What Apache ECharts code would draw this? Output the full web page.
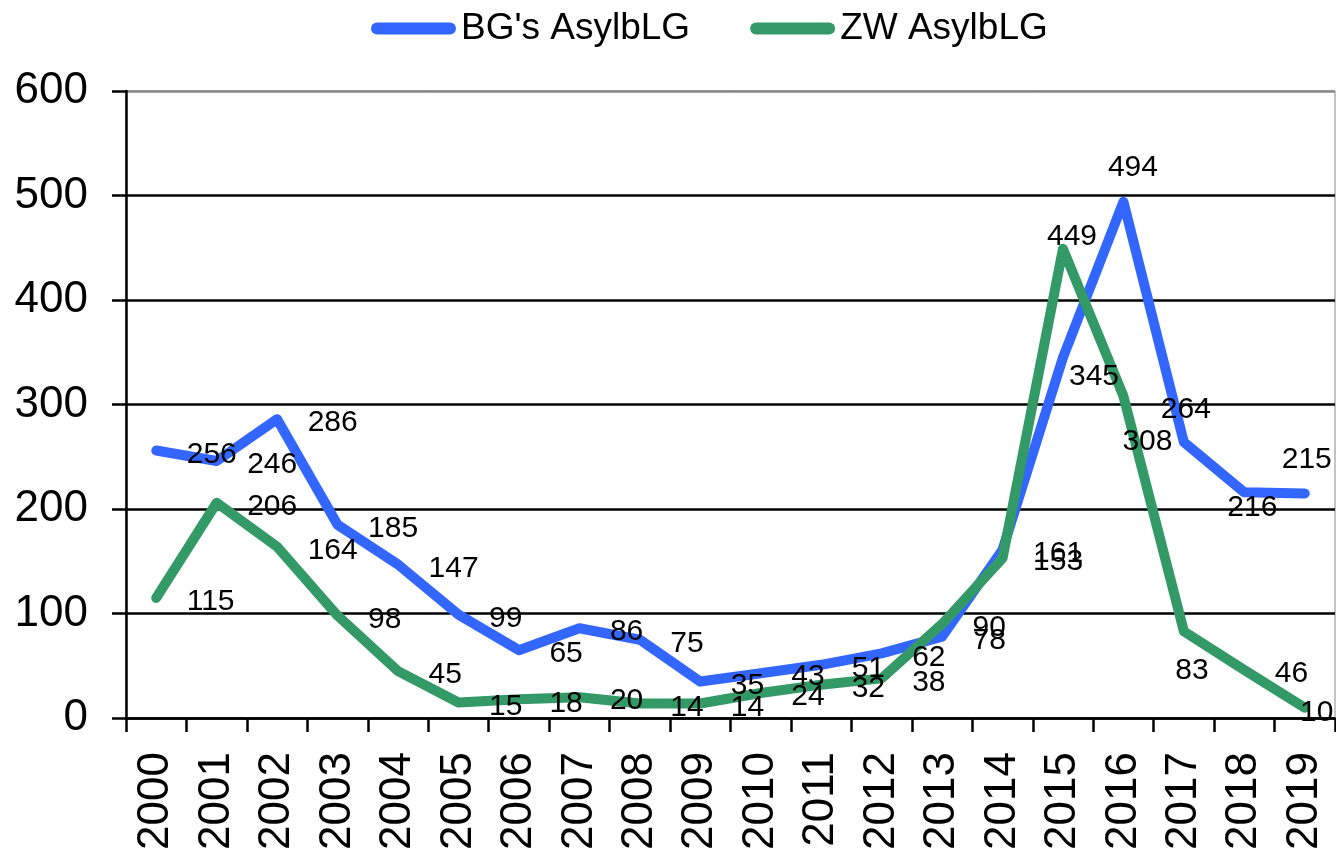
<!DOCTYPE html>
<html>
<head>
<meta charset="utf-8">
<script src="https://cdn.jsdelivr.net/npm/echarts@6/dist/echarts.min.js"></script>
<style>
html,body{margin:0;padding:0;background:#fff;}
#chart{width:1336px;height:853px;}
</style>
</head>
<body>
<div id="chart"></div>
<script>
// ---- data ----
const years = ['2000','2001','2002','2003','2004','2005','2006','2007','2008','2009',
               '2010','2011','2012','2013','2014','2015','2016','2017','2018','2019'];
const bgValues = [256,246,286,185,147,99,65,86,75,35,43,51,62,78,161,345,494,264,216,215];
const zwValues = [115,206,164,98,45,15,18,20,14,14,24,32,38,90,153,449,308,83,46,10];
const seriesNames = ["BG's AsylbLG", 'ZW AsylbLG'];

// ---- style (label nudges, relative to point) ----
const FONT = "'Liberation Sans', Arial, sans-serif";
const bgNudge = {15:[31,19],16:[9.5,-34],17:[2,-32],18:[8,15.5],19:[2,-34]};
const zwNudge = {15:[9,-12],16:[24,46],17:[8,39],19:[12,5]};

function buildData(values, nudge) {
  return values.map((v, i) => {
    if (nudge[i]) {
      return { value: v, label: { position: 'inside', offset: nudge[i] } };
    }
    return v;
  });
}

const labelBase = {
  show: true,
  position: 'right',
  distance: 30,
  offset: [0, 4],
  color: '#000',
  fontSize: 30,
  fontFamily: FONT
};

function makeSeries(name, values, nudge, color) {
  return {
    name: name,
    type: 'line',
    data: buildData(values, nudge),
    symbol: 'circle',
    symbolSize: 1,
    showSymbol: true,
    itemStyle: { color: color, borderWidth: 0 },
    lineStyle: { color: color, width: 10, cap: 'round', join: 'round' },
    label: labelBase,
    emphasis: { disabled: true }
  };
}

const pill = 'path://M6,0H79A6,6 0 0 1 79,12H6A6,6 0 0 1 6,0Z';

const option = {
  animation: false,
  backgroundColor: '#fff',
  legend: {
    left: 366,
    top: 5,
    icon: pill,
    itemWidth: 85,
    itemHeight: 12,
    itemGap: 60,
    itemStyle: { borderWidth: 0 },
    textStyle: { fontSize: 37, color: '#000', fontFamily: FONT },
    data: seriesNames
  },
  grid: {
    left: 126, right: 1, top: 91, bottom: 134,
    show: true, borderColor: '#888', borderWidth: 1
  },
  xAxis: {
    type: 'category',
    data: years,
    boundaryGap: true,
    axisLine: { show: true, lineStyle: { color: '#000', width: 2.5 } },
    axisTick: { show: true, length: 14, lineStyle: { color: '#000', width: 2.5 } },
    axisLabel: { rotate: 90, margin: 34, fontSize: 44, color: '#000', fontFamily: FONT, interval: 0 },
    splitLine: { show: false }
  },
  yAxis: {
    type: 'value',
    min: 0, max: 600, interval: 100,
    axisLine: { show: true, lineStyle: { color: '#000', width: 2.5 } },
    axisTick: { show: true, length: 14, lineStyle: { color: '#000', width: 2.5 } },
    axisLabel: { margin: 38, fontSize: 44, color: '#000', fontFamily: FONT },
    splitLine: { show: true, lineStyle: { color: ['#000','#000','#000','#000','#000','#000','#888'], width: 2.5 } }
  },
  series: [
    makeSeries(seriesNames[0], bgValues, bgNudge, '#3366FF'),
    makeSeries(seriesNames[1], zwValues, zwNudge, '#339966')
  ]
};

const chart = echarts.init(document.getElementById('chart'), null, { renderer: 'canvas' });
chart.setOption(option);
</script>
</body>
</html>
